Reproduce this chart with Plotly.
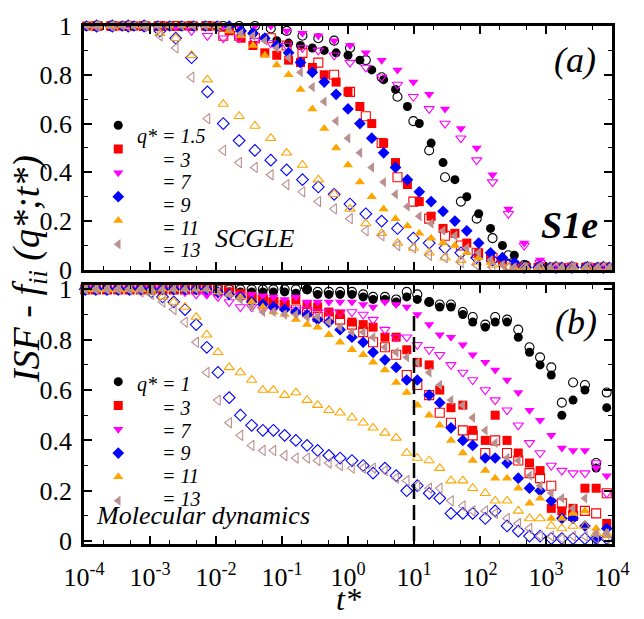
import plotly.graph_objects as go

# ---------------- DATA ----------------
TOP_LOGT_A = [-3.96, -3.78, -3.60, -3.42, -3.24, -3.06, -2.88, -2.70, -2.52, -2.34, -2.16, -1.98,
              -1.80, -1.62, -1.44, -1.26, -1.08, -0.90, -0.72, -0.54, -0.36, -0.18, 0.00, 0.18,
              0.36, 0.54, 0.72, 0.90, 1.08, 1.26, 1.44, 1.62, 1.80, 1.98, 2.16, 2.34, 2.52, 2.70,
              2.88, 3.06, 3.24, 3.42, 3.60, 3.78, 3.96]
TOP_LOGT_B = [-3.81, -3.57, -3.33, -3.09, -2.85, -2.61, -2.37, -2.13, -1.89, -1.65, -1.41, -1.17,
              -0.93, -0.69, -0.45, -0.21, 0.03, 0.27, 0.51, 0.75, 0.99, 1.23, 1.47, 1.71, 1.95,
              2.19, 2.43, 2.67, 2.91, 3.15, 3.39, 3.63, 3.87]
MD_LOGT = [-3.98, -3.82, -3.65, -3.48, -3.31, -3.14, -2.98, -2.81, -2.64, -2.47, -2.30, -2.14,
           -1.97, -1.80, -1.63, -1.46, -1.29, -1.13, -0.96, -0.79, -0.62, -0.46, -0.29, -0.12,
           0.06, 0.23, 0.38, 0.56, 0.73, 0.89, 1.05, 1.23, 1.39, 1.56, 1.74, 1.89, 2.08, 2.23,
           2.41, 2.58, 2.75, 2.91, 3.08, 3.24, 3.41, 3.59, 3.76, 3.92]

scgle_q15_filled = [1, 1, 1, 1, 1, 1, 1, 1, 1, 1, 1, 1,
                    0.99, 0.98, 0.97, 0.95, 0.94, 0.93, 0.92, 0.91, 0.90, 0.89, 0.88, 0.86, 0.82,
                    0.78, 0.74, 0.67, 0.60, 0.52, 0.44, 0.37, 0.30, 0.23, 0.17, 0.10, 0.06, 0.02,
                    0.01, 0.01, 0.01, 0.01, 0.01, 0.01, 0.01]
scgle_q3_filled = [1, 1, 1, 1, 1, 1, 1, 1, 1, 1, 1, 1,
                   0.98, 0.95, 0.92, 0.89, 0.88, 0.86, 0.85, 0.83, 0.80, 0.77, 0.73, 0.67, 0.60,
                   0.52, 0.44, 0.35, 0.28, 0.22, 0.17, 0.15, 0.11, 0.07, 0.05, 0.03, 0.02, 0.01,
                   0.01, 0.01, 0.01, 0.01, 0.01, 0.01, 0.01]
scgle_q7_filled = [1, 1, 1, 1, 1, 1, 1, 1, 1, 1, 1, 1,
                   0.98, 0.97, 0.96, 0.94, 0.92, 0.89, 0.86, 0.82, 0.77, 0.72, 0.66, 0.58, 0.50,
                   0.39, 0.25, 0.11, 0.04, 0.01, 0.01, 0.01, 0.01]
scgle_q9_filled = [1, 1, 1, 1, 1, 1, 1, 1, 1, 1, 1, 1, 1,
                   0.98, 0.97, 0.95, 0.92, 0.89, 0.85, 0.81, 0.77, 0.72, 0.66, 0.60, 0.54, 0.48,
                   0.42, 0.37, 0.32, 0.28, 0.24, 0.20, 0.16, 0.11, 0.07, 0.05, 0.03, 0.01, 0.01,
                   0.01, 0.01, 0.01, 0.01, 0.01, 0.01]
scgle_q11_filled = [1, 1, 1, 1, 1, 1, 1, 1, 1, 1, 1, 1,
                    0.98, 0.96, 0.92, 0.88, 0.84, 0.80, 0.74, 0.66, 0.58, 0.50, 0.43, 0.36, 0.30,
                    0.25, 0.21, 0.18, 0.15, 0.13, 0.11, 0.10, 0.07, 0.05, 0.03, 0.02, 0.01, 0.01,
                    0.01, 0.01, 0.01, 0.01, 0.01, 0.01, 0.01]
scgle_q13_filled = [1, 1, 1, 1, 1, 1, 1, 1, 1, 1, 1, 1,
                    0.99, 0.97, 0.96, 0.94, 0.91, 0.87, 0.81, 0.75, 0.69, 0.61, 0.54, 0.48, 0.42,
                    0.36, 0.31, 0.26, 0.22, 0.19, 0.16, 0.14, 0.09, 0.07, 0.04, 0.02, 0.01, 0.01,
                    0.01, 0.01, 0.01, 0.01, 0.01, 0.01, 0.01]
scgle_q15_open = [1, 1, 1, 1, 1, 1, 1, 1, 1, 1, 1,
                  0.99, 0.98, 0.96, 0.95, 0.94, 0.91, 0.86, 0.79, 0.71, 0.61, 0.49, 0.38, 0.28,
                  0.21, 0.13, 0.06, 0.02, 0.01, 0.01, 0.01, 0.01, 0.01]
scgle_q3_open = [1, 1, 1, 1, 1, 1, 1, 1,
                 0.96, 0.96, 0.95, 0.95, 0.92, 0.89, 0.85, 0.80, 0.73, 0.63, 0.52, 0.38, 0.28,
                 0.21, 0.14, 0.10, 0.07, 0.05, 0.02, 0.01, 0.01, 0.01, 0.01, 0.01, 0.01]
scgle_q7_open = [1, 1, 1, 1, 1, 1,
                 0.98, 0.96, 0.95, 0.95, 0.94, 0.93, 0.92, 0.91, 0.90, 0.88, 0.85, 0.83, 0.79,
                 0.76, 0.71, 0.66, 0.60, 0.54, 0.45, 0.36, 0.23, 0.10, 0.03, 0.01, 0.01, 0.01, 0.01]
scgle_q9_open = [1, 1, 1, 1,
                 0.98, 0.95, 0.87, 0.73, 0.60, 0.53, 0.49, 0.45, 0.41, 0.37, 0.34, 0.31, 0.27,
                 0.23, 0.20, 0.17, 0.13, 0.11, 0.09, 0.07, 0.05, 0.04, 0.02, 0.01, 0.01, 0.01,
                 0.01, 0.01, 0.01]
scgle_q11_open = [1, 1, 1, 1,
                  0.97, 0.95, 0.88, 0.78, 0.68, 0.63, 0.59, 0.54, 0.48, 0.43, 0.37, 0.31, 0.25,
                  0.19, 0.15, 0.11, 0.09, 0.07, 0.05, 0.04, 0.03, 0.02, 0.01, 0.01, 0.01, 0.01,
                  0.01, 0.01, 0.01]
scgle_q13_open = [1, 1, 1, 1,
                  0.96, 0.91, 0.79, 0.62, 0.49, 0.44, 0.42, 0.39, 0.35, 0.32, 0.28, 0.25, 0.21,
                  0.16, 0.14, 0.10, 0.09, 0.06, 0.05, 0.03, 0.02, 0.01, 0.01, 0.01, 0.01, 0.01,
                  0.01, 0.01, 0.01]

md_q1_filled = [1, 1, 1, 1, 1, 1, 1, 1, 1, 1, 1, 1,
                0.99, 0.99, 0.99, 0.99, 0.99, 0.99, 0.99, 0.985,
                1.0, 0.98, 0.98, 0.98, 0.98, 0.97, 0.96, 0.96, 0.95, 0.97, 0.96, 0.95, 0.93, 0.93,
                0.90, 0.87, 0.85, 0.87, 0.87, 0.81, 0.75, 0.70, 0.66, 0.50, 0.56, 0.60, 0.29, 0.53]
md_q3_filled = [1, 1, 1, 1, 1, 1, 1, 1, 1, 1, 1, 1,
                0.99, 0.99, 0.98, 0.97, 0.96, 0.95, 0.94, 0.96, 0.94, 0.93, 0.91, 0.90, 0.87, 0.86,
                0.85, 0.81, 0.81, 0.76, 0.71, 0.70, 0.60, 0.53, 0.54, 0.44, 0.40, 0.50, 0.40, 0.35,
                0.31, 0.28, 0.13, 0.12, 0.13, 0.21, 0.21, 0.07]
md_q7_filled = [1, 1, 1, 1, 1, 1, 1, 1, 1, 1, 1,
                0.98, 0.98, 0.98, 0.98, 0.98, 0.975, 0.97, 0.96, 0.97, 0.95, 0.95, 0.95, 0.95, 0.95,
                0.94, 0.93, 0.95, 0.94, 0.93, 0.90, 0.86, 0.82, 0.81, 0.78, 0.74, 0.71, 0.68, 0.64,
                0.59, 0.52, 0.48, 0.42, 0.37, 0.36, 0.36, 0.29, 0.26]
md_q9_filled = [1, 1, 1, 1, 1, 1, 1, 1, 1, 1, 1, 1,
                0.99, 0.98, 0.97, 0.95, 0.94, 0.93, 0.92, 0.91, 0.90, 0.88, 0.87, 0.84, 0.81, 0.79,
                0.75, 0.72, 0.69, 0.64, 0.64, 0.58, 0.55, 0.45, 0.40, 0.38, 0.33, 0.33, 0.31, 0.25,
                0.21, 0.20, 0.16, 0.09, 0.09, 0.06, 0.01, 0.05]
md_q11_filled = [1, 1, 1, 1, 1, 1, 1, 1, 1, 1, 1, 1,
                 0.99, 0.98, 0.97, 0.95, 0.93, 0.91, 0.90, 0.88, 0.86, 0.85, 0.82, 0.79, 0.76, 0.74,
                 0.71, 0.68, 0.63, 0.59, 0.54, 0.50, 0.46, 0.40, 0.35, 0.32, 0.28, 0.25, 0.25, 0.21,
                 0.15, 0.17, 0.09, 0.09, 0.11, 0.12, 0.05, 0.02]
md_q13_filled = [1, 1, 1, 1, 1, 1, 1, 1, 1, 1, 1, 1,
                 0.99, 0.98, 0.96, 0.93, 0.91, 0.91, 0.90, 0.90, 0.89, 0.89, 0.87, 0.85, 0.83, 0.83,
                 0.81, 0.77, 0.75, 0.73, 0.71, 0.67, 0.62, 0.56, 0.54, 0.49, 0.44, 0.39, 0.33, 0.32,
                 0.26, 0.22, 0.19, 0.17, 0.13, 0.17, 0.03, 0.03]
md_q1_open = [1, 1, 1, 1, 1, 1, 1, 1, 1, 1, 1, 1, 1, 1, 1, 1, 1, 1, 1, 1,
              1.0, 0.99, 0.99, 0.99, 0.99, 0.98, 0.97, 0.97, 0.96, 0.99, 0.98, 0.95, 0.94, 0.94,
              0.91, 0.89, 0.86, 0.89, 0.88, 0.84, 0.77, 0.73, 0.69, 0.55, 0.63, 0.62, 0.31, 0.59]
md_q3_open = [1, 1, 1, 1, 1, 1, 1, 1, 1, 1, 1, 1, 1, 1,
              0.98, 0.97, 0.96, 0.95, 0.94, 0.92, 0.91, 0.89, 0.89, 0.88, 0.86, 0.83, 0.79, 0.77,
              0.74, 0.66, 0.62, 0.58, 0.51, 0.47, 0.44, 0.42, 0.35, 0.40, 0.35, 0.32, 0.27, 0.25,
              0.22, 0.15, 0.10, 0.12, 0.11, 0.19]
md_q7_open = [1, 1, 1, 1, 1, 1, 1, 1, 1,
              0.99, 0.98, 0.98, 0.97, 0.95, 0.93, 0.93, 0.92, 0.92, 0.92, 0.92, 0.92, 0.91, 0.91,
              0.91, 0.91, 0.90, 0.88, 0.84, 0.81, 0.81, 0.78, 0.76, 0.74, 0.70, 0.67, 0.64, 0.60,
              0.56, 0.52, 0.46, 0.39, 0.35, 0.30, 0.28, 0.27, 0.27, 0.31, 0.19]
md_q9_open = [1, 1, 1, 1, 1, 1,
              0.99, 0.97, 0.95, 0.92, 0.86, 0.77, 0.67, 0.57, 0.50, 0.46, 0.44, 0.44, 0.42, 0.40,
              0.38, 0.36, 0.34, 0.33, 0.32, 0.30, 0.27, 0.29, 0.26, 0.20, 0.22, 0.19, 0.17, 0.11,
              0.11, 0.11, 0.09, 0.12, 0.06, 0.04, 0.02, 0.02, 0.01, 0.01, 0.01, 0.01, 0.01, 0.01]
md_q11_open = [1, 1, 1, 1, 1, 1,
               0.99, 0.97, 0.95, 0.93, 0.89, 0.82, 0.75, 0.69, 0.67, 0.64, 0.60, 0.60, 0.58, 0.59,
               0.56, 0.54, 0.52, 0.51, 0.49, 0.47, 0.45, 0.43, 0.41, 0.35, 0.33, 0.32, 0.29, 0.24,
               0.24, 0.21, 0.19, 0.16, 0.16, 0.12, 0.09, 0.09, 0.06, 0.05, 0.06, 0.06, 0.03, 0.03]
md_q13_open = [1, 1, 1, 1, 1,
               0.99, 0.98, 0.95, 0.92, 0.87, 0.79, 0.67, 0.56, 0.47, 0.42, 0.38, 0.36, 0.36, 0.34,
               0.33, 0.33, 0.32, 0.31, 0.30, 0.29, 0.29, 0.29, 0.28, 0.25, 0.24, 0.22, 0.21, 0.21,
               0.16, 0.14, 0.12, 0.12, 0.11, 0.09, 0.07, 0.05, 0.02, 0.02, 0.01, 0.02, 0.02, 0.01,
               0.01]

SCGLE_LABELS = ["q* = 1.5", "= 3", "= 7", "= 9", "= 11", "= 13"]
MD_LABELS = ["q* = 1", "= 3", "= 7", "= 9", "= 11", "= 13"]
Q_NAMES = ["1.5", "3", "7", "9", "11", "13"]
X_TICK_VALS = [1e-4, 1e-3, 1e-2, 1e-1, 1e0, 1e1, 1e2, 1e3, 1e4]
X_TICK_TEXT = ["10<sup>-4</sup>", "10<sup>-3</sup>", "10<sup>-2</sup>", "10<sup>-1</sup>",
               "10<sup>0</sup>", "10<sup>1</sup>", "10<sup>2</sup>", "10<sup>3</sup>",
               "10<sup>4</sup>"]
T_PLATEAU = 10.0

# ---------------- STYLE / LAYOUT ----------------
COLORS = ["#000000", "#ff0000", "#ff00ff", "#0000ff", "#ffa500", "#bc8f8f"]
SYMBOLS = ["circle", "square", "triangle-down", "diamond", "triangle-up", "triangle-left"]
FONT = "Liberation Serif"
NB = "\u00a0"
# legend text rows (paper y), aligned with the legend symbol rows
TOP_ROWS = [0.7872, 0.7420, 0.6987, 0.6554, 0.6102, 0.5669]
BOT_ROWS = [0.3070, 0.2618, 0.2185, 0.1751, 0.1318, 0.0866]

def to_t(logs):
    return [10 ** v for v in logs]

fig = go.Figure()

top_filled = [(scgle_q15_filled, TOP_LOGT_A), (scgle_q3_filled, TOP_LOGT_A),
              (scgle_q7_filled, TOP_LOGT_B), (scgle_q9_filled, TOP_LOGT_A),
              (scgle_q11_filled, TOP_LOGT_A), (scgle_q13_filled, TOP_LOGT_A)]
top_open = [scgle_q15_open, scgle_q3_open, scgle_q7_open, scgle_q9_open,
            scgle_q11_open, scgle_q13_open]
md_filled = [md_q1_filled, md_q3_filled, md_q7_filled, md_q9_filled, md_q11_filled,
             md_q13_filled]
md_open = [md_q1_open, md_q3_open, md_q7_open, md_q9_open, md_q11_open, md_q13_open]

MS = 9
for i in range(6):
    ys, lg = top_filled[i]
    fig.add_trace(go.Scatter(x=to_t(lg), y=ys, mode="markers", xaxis="x", yaxis="y",
                             name=NB * (i + 1), legend="legend", cliponaxis=False,
                             marker=dict(symbol=SYMBOLS[i], color=COLORS[i], size=MS,
                                         line=dict(width=0))))
    fig.add_trace(go.Scatter(x=to_t(TOP_LOGT_B), y=top_open[i], mode="markers", xaxis="x",
                             yaxis="y", showlegend=False, cliponaxis=False,
                             marker=dict(symbol=SYMBOLS[i] + "-open", color=COLORS[i], size=MS,
                                         line=dict(width=1.1))))
for i in range(6):
    fig.add_trace(go.Scatter(x=to_t(MD_LOGT), y=md_filled[i], mode="markers", xaxis="x2",
                             yaxis="y2", name=NB * (i + 1), legend="legend2",
                             cliponaxis=False,
                             marker=dict(symbol=SYMBOLS[i], color=COLORS[i], size=MS,
                                         line=dict(width=0))))
    fig.add_trace(go.Scatter(x=to_t(MD_LOGT), y=md_open[i], mode="markers", xaxis="x2",
                             yaxis="y2", showlegend=False, cliponaxis=False,
                             marker=dict(symbol=SYMBOLS[i] + "-open", color=COLORS[i], size=MS,
                                         line=dict(width=1.1))))

axis_common = dict(showline=True, linecolor="black", linewidth=2.5, mirror="allticks",
                   ticks="inside", ticklen=8, tickwidth=1.5, tickcolor="black",
                   showgrid=False, zeroline=False)
minor_x = dict(ticks="inside", ticklen=4, tickwidth=1.2, tickcolor="black", showgrid=False)
minor_y = dict(ticks="inside", ticklen=4, tickwidth=1.2, tickcolor="black", showgrid=False,
               dtick=0.1)

fig.update_layout(
    width=644, height=619,
    margin=dict(l=84, r=32, t=13, b=75),
    paper_bgcolor="white", plot_bgcolor="white",
    font=dict(family=FONT, color="black"),
    xaxis=dict(type="log", range=[-4, 4], domain=[0, 1], anchor="y", showticklabels=False,
               tickvals=X_TICK_VALS, minor=minor_x, **axis_common),
    yaxis=dict(range=[0, 1], domain=[0.5292, 1], anchor="x", dtick=0.2, tick0=0,
               minor=minor_y, tickfont=dict(size=26, family=FONT), ticklabelstandoff=4,
               **axis_common),
    xaxis2=dict(type="log", range=[-4, 4], domain=[0, 1], anchor="y2", matches="x",
                tickvals=X_TICK_VALS, ticktext=X_TICK_TEXT, minor=minor_x,
                tickfont=dict(size=26, family=FONT), ticklabelstandoff=8, **axis_common),
    yaxis2=dict(range=[-0.0116, 1.0155], domain=[0, 0.4991], anchor="x2", dtick=0.2, tick0=0,
                minor=minor_y, tickfont=dict(size=26, family=FONT), ticklabelstandoff=4,
                **axis_common),
    legend=dict(x=0.027, y=0.841, xanchor="left", yanchor="top", bgcolor="rgba(0,0,0,0)",
                font=dict(size=16, family=FONT, color="black"), tracegroupgap=0),
    legend2=dict(x=0.027, y=0.346, xanchor="left", yanchor="top", bgcolor="rgba(0,0,0,0)",
                 font=dict(size=16, family=FONT, color="black"), tracegroupgap=0),
    shapes=[dict(type="line", xref="x2", yref="y2", x0=T_PLATEAU, x1=T_PLATEAU, y0=0, y1=0.9,
                 line=dict(color="black", width=2.5, dash="15px,6px"))],
)

# legend texts
for rows, labels in ((TOP_ROWS, SCGLE_LABELS), (BOT_ROWS, MD_LABELS)):
    for r, s in zip(rows, labels):
        first = s.startswith("q*")
        fig.add_annotation(text="<i>" + s + "</i>", x=0.0966 if first else 0.1439, y=r,
                           xref="paper", yref="paper", showarrow=False, xanchor="left",
                           yanchor="middle", font=dict(size=20, family=FONT, color="black"))

ann = [
    dict(text="<i>(a)</i>", x=0.93, y=0.935, size=36),
    dict(text="<i>(b)</i>", x=0.932, y=0.428, size=36),
    dict(text="<b><i>S1e</i></b>", x=0.9186, y=0.6158, size=38),
    dict(text="<i>SCGLE</i>", x=0.3239, y=0.5895, size=26),
    dict(text="<i>Molecular dynamics</i>", x=0.2254, y=0.0546, size=26),
    dict(text="<i>t*</i>", x=0.5, y=-0.1055, size=32),
]
for a in ann:
    fig.add_annotation(text=a["text"], x=a["x"], y=a["y"], xref="paper", yref="paper",
                       showarrow=False, xanchor="center", yanchor="middle",
                       font=dict(size=a["size"], family=FONT, color="black"))
fig.add_annotation(text="<i>ISF - f<sub>ii</sub> (q*;t*)</i>", x=-0.104, y=0.531,
                   xref="paper", yref="paper", showarrow=False, textangle=-90,
                   xanchor="center", yanchor="middle",
                   font=dict(size=38, family=FONT, color="black"))

fig.write_html("out.html")
